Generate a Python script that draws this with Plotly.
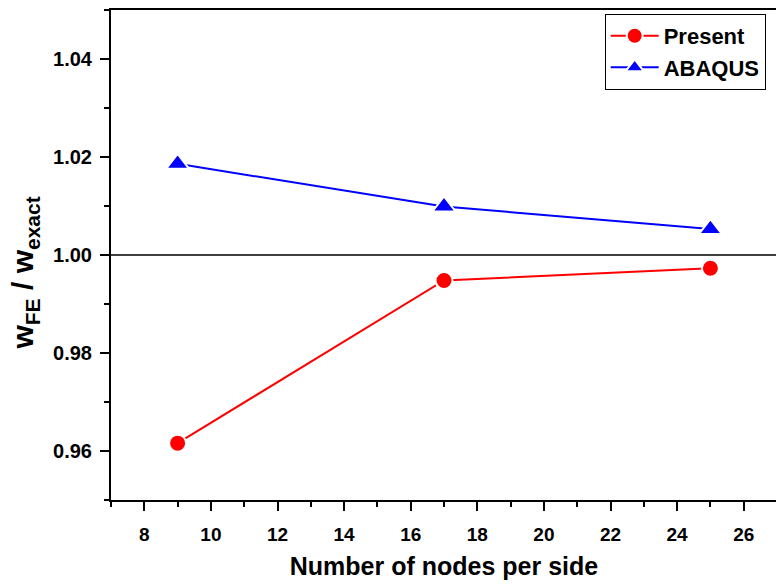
import plotly.graph_objects as go

# Data
nodes = [9, 17, 25]
present = [0.9616, 0.9948, 0.9973]
abaqus = [1.0186, 1.0099, 1.0053]
reference_value = 1.0

font_family = "Arial, Liberation Sans, sans-serif"

trace_present = go.Scatter(
    x=nodes, y=present, name="<b>Present</b>",
    mode="lines+markers",
    line=dict(color="#ff0000", width=2),
    marker=dict(symbol="circle", size=17, color="#ff0000",
                line=dict(color="white", width=2)),
)

trace_abaqus = go.Scatter(
    x=nodes, y=abaqus, name="<b>ABAQUS</b>",
    mode="lines+markers",
    line=dict(color="#0000ff", width=2),
    marker=dict(symbol="triangle-up", size=20, color="#0000ff",
                line=dict(color="white", width=2)),
)

fig = go.Figure(data=[trace_present, trace_abaqus])

# page body has an 8px margin, so the figure is a bit smaller than the window
fig.update_layout(
    width=776, height=576,
    margin=dict(l=103, r=7, t=2, b=84, autoexpand=False),
    paper_bgcolor="white", plot_bgcolor="white",
    font=dict(family=font_family, size=20, color="black"),
    showlegend=True,
    legend=dict(
        x=0.983, y=0.992, xanchor="right", yanchor="top",
        bordercolor="black", borderwidth=1, bgcolor="white",
        font=dict(size=22), tracegroupgap=0, itemwidth=48,
    ),
    shapes=[dict(
        type="line", xref="paper", x0=0, x1=1,
        yref="y", y0=reference_value, y1=reference_value,
        line=dict(color="black", width=1.5),
    )],
    # y title as annotation: it sits a little below the plot centre, like the original
    annotations=[dict(
        text="<b>w<sub>FE</sub> / w<sub>exact</sub></b>",
        xref="paper", yref="paper", x=-0.13, y=0.463,
        xanchor="center", yanchor="middle", textangle=-90,
        showarrow=False, font=dict(size=30),
    )],
)

fig.update_xaxes(
    range=[7, 27], dtick=2, tick0=8, automargin=False,
    showline=True, linecolor="black", linewidth=2, mirror=True,
    ticks="outside", ticklen=9, tickwidth=2, tickcolor="black",
    minor=dict(ticks="outside", ticklen=5, tickwidth=2, dtick=1, tick0=7, tickcolor="black"),
    showgrid=False, zeroline=False,
    tickfont=dict(size=19, family=font_family),
    tickprefix="<b>", ticksuffix="</b>", ticklabelstandoff=7,
    title=dict(text="<b>Number of nodes per side</b>", font=dict(size=25), standoff=14),
)

fig.update_yaxes(
    range=[0.95, 1.05], dtick=0.02, tick0=0.96, tickformat=".2f", automargin=False,
    showline=True, linecolor="black", linewidth=2, mirror=True,
    ticks="outside", ticklen=9, tickwidth=2, tickcolor="black",
    minor=dict(ticks="outside", ticklen=5, tickwidth=2, dtick=0.01, tick0=0.95, tickcolor="black"),
    showgrid=False, zeroline=False,
    tickfont=dict(size=20, family=font_family),
    tickprefix="<b>", ticksuffix="</b>", ticklabelstandoff=4,
)

fig.write_html("out.html")
